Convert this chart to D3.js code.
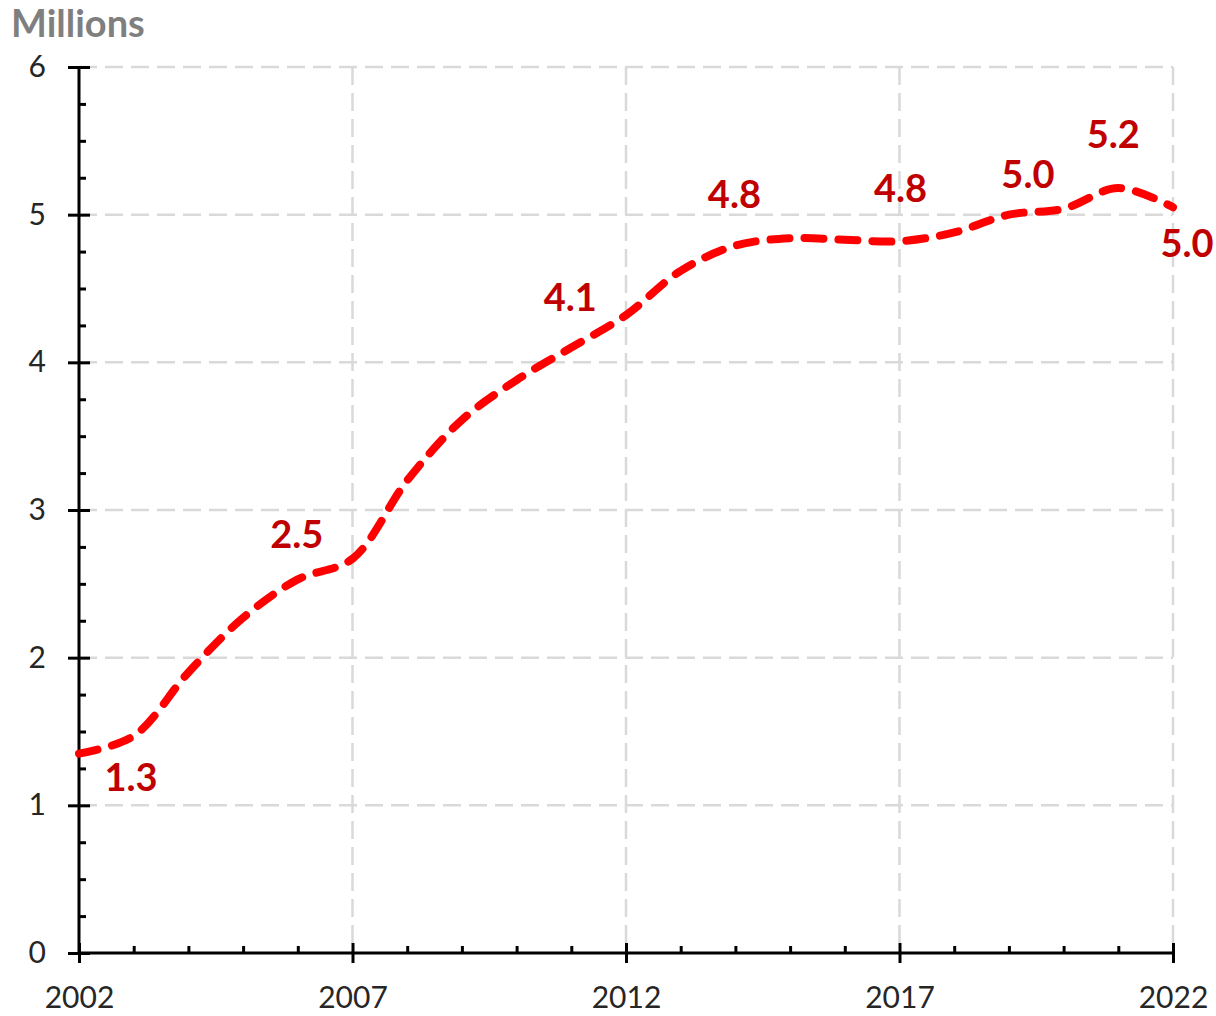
<!DOCTYPE html>
<html>
<head>
<meta charset="utf-8">
<script src="https://cdn.jsdelivr.net/npm/d3@7"></script>
<style>
  body { margin: 0; background: #fff; }
  svg { display: block; font-family: Lato, "Open Sans", sans-serif; }
</style>
</head>
<body>
<svg id="chart" width="1216" height="1016"></svg>
<script>
// ---- data ----
var years = [2002, 2003, 2004, 2005, 2006, 2007, 2008, 2009, 2010, 2011, 2012,
             2013, 2014, 2015, 2016, 2017, 2018, 2019, 2020, 2021, 2022];
var values = [1.35, 1.47, 1.90, 2.27, 2.53, 2.67, 3.20, 3.61, 3.88, 4.10, 4.32,
              4.62, 4.79, 4.84, 4.83, 4.82, 4.88, 5.00, 5.04, 5.18, 5.05];
var labelYears = [2002, 2006, 2011, 2014, 2017, 2019, 2021, 2022];
var labelTexts = ["1.3", "2.5", "4.1", "4.8", "4.8", "5.0", "5.2", "5.0"];
var xTicks = [2002, 2007, 2012, 2017, 2022];
var yTicks = [0, 1, 2, 3, 4, 5, 6];
var unitLabel = "Millions";

// ---- layout ----
var plotLeft = 79, plotTop = 67, plotRight = 1173, plotBottom = 953;

var svg = d3.select("#chart");

var x = d3.scaleLinear().domain([2002, 2022]).range([plotLeft, plotRight]);
var y = d3.scaleLinear().domain([0, 6]).range([plotBottom, plotTop]);

// gridlines
svg.append("g")
  .selectAll("line")
  .data(yTicks.filter(function(d) { return d > 0; }))
  .join("line")
  .attr("x1", plotLeft).attr("x2", plotRight)
  .attr("y1", function(d) { return y(d); })
  .attr("y2", function(d) { return y(d); })
  .attr("stroke", "#d9d9d9")
  .attr("stroke-width", 2.5)
  .attr("stroke-dasharray", "18 8");

svg.append("g")
  .selectAll("line")
  .data(xTicks.filter(function(d) { return d > 2002; }))
  .join("line")
  .attr("x1", function(d) { return x(d); })
  .attr("x2", function(d) { return x(d); })
  .attr("y1", plotTop).attr("y2", plotBottom)
  .attr("stroke", "#d9d9d9")
  .attr("stroke-width", 2.5)
  .attr("stroke-dasharray", "18 8");

// minor ticks (inside)
var yMinor = d3.range(0, 6.001, 0.25).filter(function(d) { return d % 1 !== 0; });
var xMinor = d3.range(2002, 2023).filter(function(d) { return (d - 2002) % 5 !== 0; });

var yAxisMinor = svg.append("g")
  .attr("transform", "translate(" + plotLeft + ",0)")
  .call(d3.axisRight(y).tickValues(yMinor).tickSize(7).tickFormat(""));
var xAxisMinor = svg.append("g")
  .attr("transform", "translate(0," + plotBottom + ")")
  .call(d3.axisTop(x).tickValues(xMinor).tickSize(7).tickFormat(""));

// major axes
var yAxis = svg.append("g")
  .attr("transform", "translate(" + plotLeft + ",0)")
  .call(d3.axisLeft(y).tickValues(yTicks).tickSize(11).tickPadding(22)
        .tickFormat(d3.format("d")));
yAxis.selectAll(".tick line").attr("x2", 11).attr("x1", -11);

var xAxis = svg.append("g")
  .attr("transform", "translate(0," + plotBottom + ")")
  .call(d3.axisBottom(x).tickValues(xTicks).tickSize(10).tickPadding(24)
        .tickFormat(d3.format("d")));
xAxis.selectAll(".tick line").attr("y1", -10).attr("y2", 10);

[yAxisMinor, xAxisMinor, yAxis, xAxis].forEach(function(g) {
  g.select(".domain").remove();
  g.selectAll(".tick line").attr("stroke", "#000").attr("stroke-width", 3);
});

yAxis.selectAll("text")
  .attr("font-size", 30).attr("fill", "#262626")
  .style("font-family", "Lato, sans-serif");
xAxis.selectAll("text")
  .attr("font-size", 30).attr("fill", "#262626")
  .style("font-family", "Lato, sans-serif");

// axis lines
svg.append("line")
  .attr("x1", plotLeft).attr("x2", plotLeft).attr("y1", plotTop).attr("y2", plotBottom)
  .attr("stroke", "#000").attr("stroke-width", 3);
svg.append("line")
  .attr("x1", plotLeft).attr("x2", plotRight).attr("y1", plotBottom).attr("y2", plotBottom)
  .attr("stroke", "#000").attr("stroke-width", 3);

// the series
var line = d3.line()
  .x(function(d, i) { return x(years[i]); })
  .y(function(d) { return y(d); })
  .curve(d3.curveCatmullRom.alpha(0.5));

svg.append("path")
  .datum(values)
  .attr("d", line)
  .attr("fill", "none")
  .attr("stroke", "#ff0000")
  .attr("stroke-width", 8)
  .attr("stroke-linecap", "round")
  .attr("stroke-dasharray", "19 15");

// data labels
var labelShift = [[52, 37], [-1, -31], [-1, -37], [-1, -38], [1, -39], [19, -27], [-5, -40], [14, 50]];
svg.append("g")
  .selectAll("text")
  .data(labelYears)
  .join("text")
  .attr("x", function(d, i) { return x(d) + labelShift[i][0]; })
  .attr("y", function(d, i) { return y(values[years.indexOf(d)]) + labelShift[i][1]; })
  .attr("text-anchor", "middle")
  .attr("font-size", 38)
  .attr("font-weight", "bold")
  .attr("fill", "#c00000")
  .text(function(d, i) { return labelTexts[i]; });

// unit label
svg.append("text")
  .attr("x", 11)
  .attr("y", 37)
  .attr("font-size", 38)
  .attr("font-weight", "bold")
  .attr("fill", "#7f7f7f")
  .text(unitLabel);
</script>
</body>
</html>
